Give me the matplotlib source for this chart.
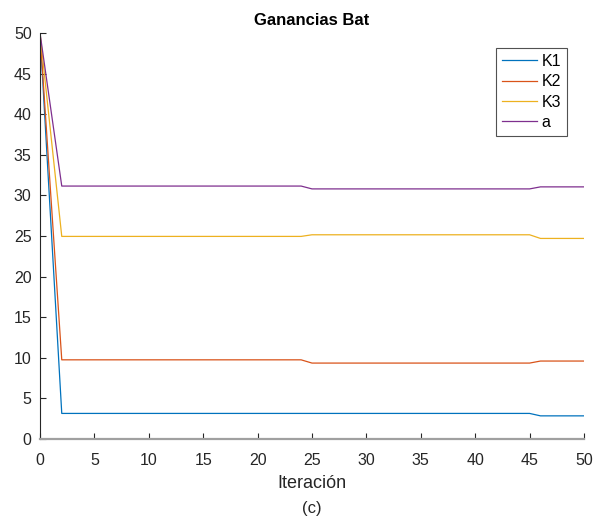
import matplotlib
matplotlib.use("Agg")
from matplotlib import pyplot as plt

plt.rcParams['font.family'] = ['Liberation Sans', 'DejaVu Sans']

# iteraciones donde cambian las ganancias
iteracion = [0, 2, 24, 25, 45, 46, 50]
k1 = [50, 3.15, 3.15, 3.15, 3.15, 2.85, 2.85]
k2 = [50, 9.75, 9.75, 9.35, 9.35, 9.6, 9.6]
k3 = [50, 24.95, 24.95, 25.15, 25.15, 24.7, 24.7]
a = [50, 31.15, 31.15, 30.8, 30.8, 31.05, 31.05]

nombres = ['K1', 'K2', 'K3', 'a']
colores = ['#0072BD', '#D95319', '#EDB120', '#7E2F8E']

fig = plt.figure(figsize=(5.94, 5.21), dpi=100)
ax = fig.add_axes([40/594, 1-439/521, 544/594, 406/521])

for serie, nombre, c in zip([k1, k2, k3, a], nombres, colores):
    ax.plot(iteracion, serie, color=c, lw=0.9, label=nombre)

ax.set_xlim(0, 50)
ax.set_ylim(0, 50)
ax.set_xticks(range(0, 51, 5))
ax.set_yticks(range(0, 51, 5))
ax.tick_params(direction='in', length=4, width=0.8, labelsize=11.5,
               colors='#262626', pad=6)
ax.tick_params(axis='x', pad=10)
ax.spines['top'].set_visible(False)
ax.spines['right'].set_visible(False)
ax.spines['left'].set_color('#262626')
ax.spines['left'].set_linewidth(0.8)
ax.spines['bottom'].set_color('#a0a0a0')
ax.spines['bottom'].set_linewidth(1.6)

ax.set_title('Ganancias Bat', fontsize=12, fontweight='bold', pad=6)
ax.set_xlabel('Iteración', fontsize=13, color='#262626', labelpad=5)
fig.text(312/594, 1-508/521, '(c)', fontsize=12, color='#262626',
         ha='center', va='center')

leg = ax.legend(loc='upper right', fontsize=11.5, frameon=True,
                fancybox=False, edgecolor='#262626', handlelength=2.2,
                borderpad=0.36, labelspacing=0.34, handletextpad=0.3,
                borderaxespad=0)
leg.get_frame().set_linewidth(0.8)
leg.set_bbox_to_anchor(((567-40)/544, (439-48)/406), transform=ax.transAxes)

fig.savefig('out.png', dpi=100)
